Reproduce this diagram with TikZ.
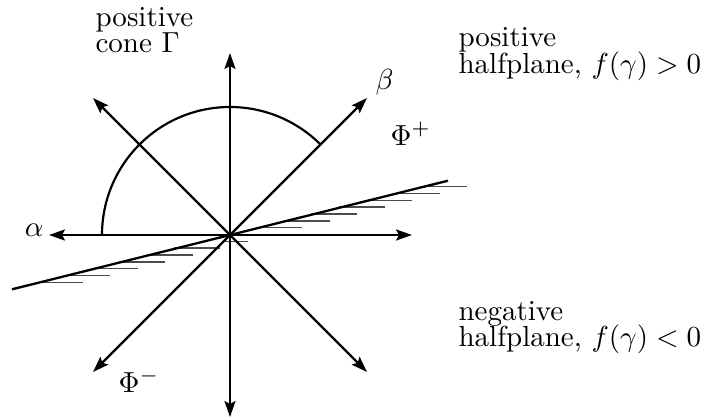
\documentclass[tikz,border=0pt]{standalone}
\usetikzlibrary{arrows.meta}
\begin{document}
\begin{tikzpicture}[x=0.3448pt,y=-0.3448pt,
  axis/.style={line width=0.75pt,-{Stealth[length=5.5pt,width=3.8pt,inset=1pt]}},
  hatch/.style={line width=0.5pt,black!70},
  bound/.style={line width=0.8pt},
  lbl/.style={inner sep=0pt,anchor=base west}]
\useasboundingbox (0,0) rectangle (702,418);
% hatches
\foreach \k in {0,...,6,9,10,...,14}{
  \pgfmathsetmacro{\yy}{186.7+6.83*\k}
  \pgfmathsetmacro{\xs}{230+(235-\yy)/0.249-3}
  \pgfmathsetmacro{\xe}{273+(235-\yy)/0.249}
  \draw[hatch] (\xs,\yy) -- (\xe,\yy);
}
\draw[hatch] (223,241.34) -- (248,241.34);
% origin and tips
\coordinate (O) at (230,235);
\coordinate (L) at (49,235);
\coordinate (R) at (412,235);
\coordinate (T) at (230,53);
\coordinate (B) at (230,417);
\coordinate (NW) at (93,98);
\coordinate (NE) at (367,98);
\coordinate (SW) at (93,372);
\coordinate (SE) at (367,372);
\coordinate (H1) at (12,289.3);
\coordinate (H2) at (448,180.7);
% boundary line of the halfplane
\draw[bound] (H1) -- (H2);
% axes
\foreach \t in {L,R,T,B,NW,NE,SW,SE}{\draw[axis] (O) -- (\t);}
% positive cone arc
\draw[line width=0.75pt] (O) ++(-128,0) arc[start angle=180,end angle=315,radius=128];
% labels
\node[lbl] (pc1) at (95,26.7) {positive};
\node[lbl] (pc2) at (95,52.7) {cone $\Gamma$};
\node[lbl] (ph1) at (458,46.7) {positive};
\node[lbl] (ph2) at (458,73.3) {halfplane, $f(\gamma)>0$};
\node[lbl] (nh1) at (458,320) {negative};
\node[lbl] (nh2) at (458,346.7) {halfplane, $f(\gamma)<0$};
\node[inner sep=0pt,anchor=base east] (alpha) at (44,236) {$\alpha$};
\node[lbl] (beta) at (375,89.4) {$\beta$};
\node[lbl] (phip) at (390,145) {$\Phi^+$};
\node[lbl] (phim) at (118,392) {$\Phi^-$};
\end{tikzpicture}
\end{document}
